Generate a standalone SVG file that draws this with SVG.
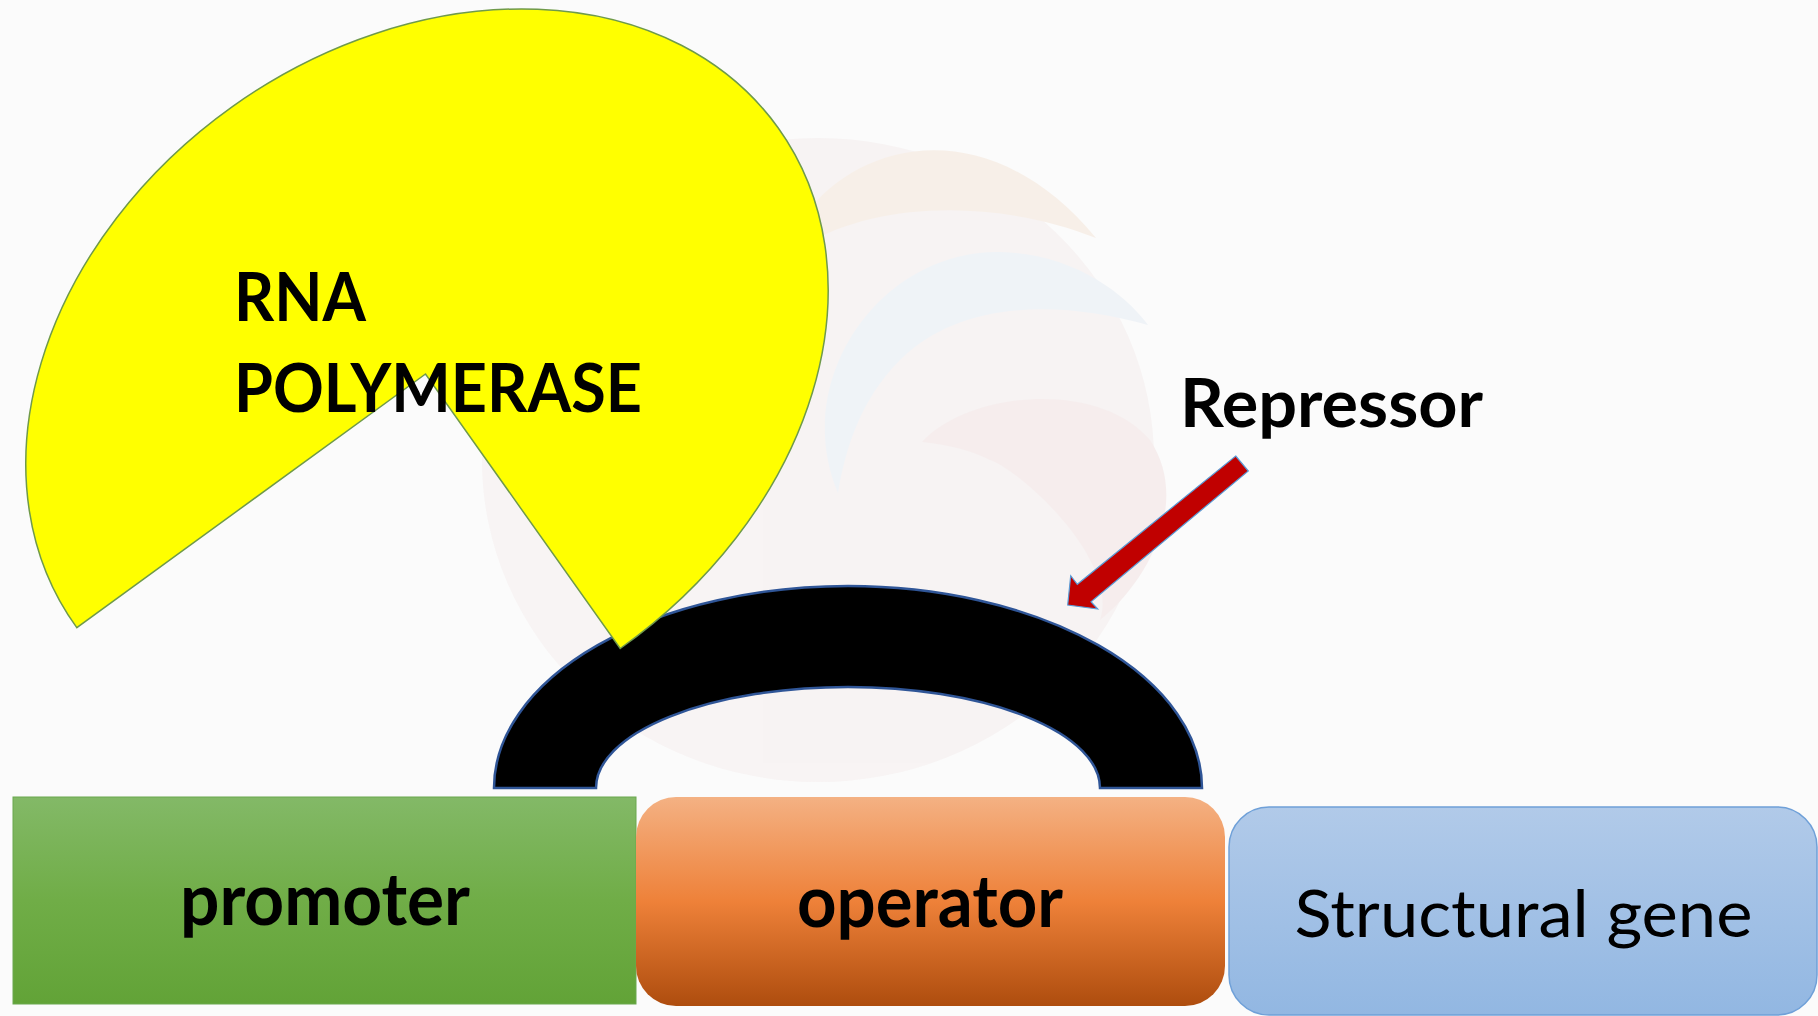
<svg xmlns="http://www.w3.org/2000/svg" width="1818" height="1016" viewBox="0 0 1818 1016">
  <defs>
    <linearGradient id="gGreen" x1="0" y1="0" x2="0" y2="1">
      <stop offset="0" stop-color="#83b967"/>
      <stop offset="0.5" stop-color="#70ad47"/>
      <stop offset="1" stop-color="#62a337"/>
    </linearGradient>
    <linearGradient id="gOrange" x1="0" y1="0" x2="0" y2="1">
      <stop offset="0" stop-color="#f4b183"/>
      <stop offset="0.5" stop-color="#ee8139"/>
      <stop offset="1" stop-color="#ae4d0e"/>
    </linearGradient>
    <linearGradient id="gBlue" x1="0" y1="0" x2="0" y2="1">
      <stop offset="0" stop-color="#b1cae9"/>
      <stop offset="1" stop-color="#92b7e2"/>
    </linearGradient>
    <style>
      .lbl { font-family: Lato, "Liberation Sans", sans-serif; fill: #000000; }
      .bold { font-weight: 700; }
      .reg { font-weight: 400; }
      .wm { stroke: none; }
    </style>
  </defs>

  <rect x="0" y="0" width="1818" height="1016" fill="#fbfbfb"/>

  <!-- faint watermark -->
  <g id="watermark" opacity="0.45">
    <ellipse class="wm" cx="818" cy="460" rx="336" ry="322" fill="#f3eaea"/>
    <path class="wm" d="M 805 215 C 860 140 990 110 1096 238 C 1000 200 880 200 805 245 Z" fill="#f4e2d2"/>
    <path class="wm" d="M 838 493 C 790 380 880 250 1000 252 C 1080 254 1130 300 1148 325 C 1060 300 960 300 900 360 C 860 400 845 450 838 493 Z" fill="#e2eaf4"/>
    <path class="wm" d="M 922 442 C 970 390 1100 380 1150 440 C 1190 500 1150 580 1100 620 C 1120 560 1020 470 990 460 C 970 450 950 445 922 442 Z" fill="#f0dede"/>
  </g>

  <!-- Repressor (black block arc) -->
  <g id="node-repressor">
    <path d="M 494 788 A 354 202 0 0 1 1202 788 L 1100 788 A 252 101 0 0 0 596 788 Z" fill="#000000" stroke="#2f5597" stroke-width="2.5"/>
  </g>

  <!-- RNA polymerase -->
  <g id="node-rna-polymerase">
    <path d="M 425.5 374 L 76.8 627.6 A 430.6 333.2 -35 1 1 620.2 648.5 Z" fill="#ffff00" stroke="#6f9a4a" stroke-width="1.5"/>
    <text class="lbl bold" x="234" y="321" font-size="66" textLength="132" lengthAdjust="spacingAndGlyphs">RNA</text>
    <text class="lbl bold" x="234" y="411.5" font-size="66" textLength="408" lengthAdjust="spacingAndGlyphs">POLYMERASE</text>
  </g>

  <!-- Repressor label -->
  <g id="label-repressor">
    <text class="lbl bold" x="1180" y="427" font-size="66" textLength="303" lengthAdjust="spacingAndGlyphs">Repressor</text>
  </g>

  <!-- Promoter -->
  <g id="node-promoter">
    <rect x="13" y="797" width="623" height="207" fill="url(#gGreen)" stroke="#6aa84f" stroke-width="1"/>
    <text class="lbl bold" x="180" y="925" font-size="73" textLength="290" lengthAdjust="spacingAndGlyphs">promoter</text>
  </g>

  <!-- Operator -->
  <g id="node-operator">
    <rect x="636" y="797" width="589" height="209" rx="40" ry="40" fill="url(#gOrange)"/>
    <text class="lbl bold" x="797" y="926.5" font-size="73" textLength="266" lengthAdjust="spacingAndGlyphs">operator</text>
  </g>

  <!-- Structural gene -->
  <g id="node-structural-gene">
    <rect x="1229" y="807" width="588" height="208" rx="40" ry="40" fill="url(#gBlue)" stroke="#6fa0d8" stroke-width="1.5"/>
    <text class="lbl reg" x="1294.5" y="937" font-size="66" textLength="458" lengthAdjust="spacingAndGlyphs">Structural gene</text>
  </g>

  <!-- Connectors -->
  <g id="connectors">
    <polygon points="1235.7,456 1248.3,471 1091,601.7 1097.7,609 1067.7,605 1070.7,575.7 1077.3,584.3" fill="#c00000" stroke="#5b9bd5" stroke-width="1.2" stroke-linejoin="miter"/>
  </g>
</svg>
